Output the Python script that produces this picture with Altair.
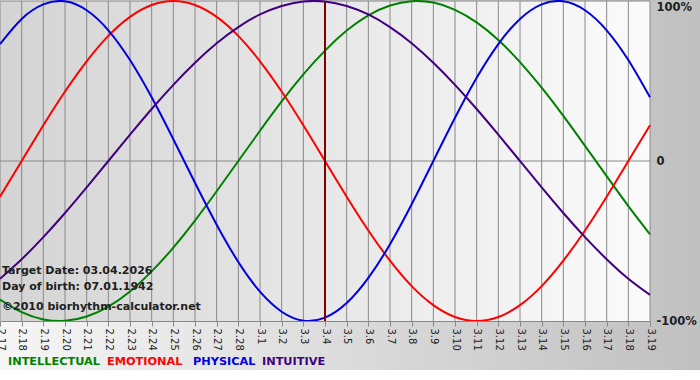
import altair as alt
import pandas as pd

# ---- data ----
dates = ["2.17", "2.18", "2.19", "2.20", "2.21", "2.22", "2.23", "2.24", "2.25", "2.26",
         "2.27", "2.28", "3.1", "3.2", "3.3", "3.4", "3.5", "3.6", "3.7", "3.8",
         "3.9", "3.10", "3.11", "3.12", "3.13", "3.14", "3.15", "3.16", "3.17", "3.18", "3.19"]

intellectual = [-0.866, -0.945, -0.990, -0.999, -0.972, -0.910, -0.815, -0.690, -0.541, -0.372,
                -0.189, 0.0, 0.189, 0.372, 0.541, 0.690, 0.815, 0.910, 0.972, 0.999,
                0.990, 0.945, 0.866, 0.756, 0.618, 0.458, 0.282, 0.095, -0.095, -0.282, -0.458]
emotional = [-0.223, 0.0, 0.223, 0.434, 0.623, 0.782, 0.901, 0.975, 1.0, 0.975,
             0.901, 0.782, 0.623, 0.434, 0.223, 0.0, -0.223, -0.434, -0.623, -0.782,
             -0.901, -0.975, -1.0, -0.975, -0.901, -0.782, -0.623, -0.434, -0.223, 0.0, 0.223]
physical = [0.731, 0.888, 0.979, 0.998, 0.942, 0.817, 0.631, 0.398, 0.136, -0.136,
            -0.398, -0.631, -0.817, -0.942, -0.998, -0.979, -0.888, -0.731, -0.520, -0.270,
            0.0, 0.270, 0.520, 0.731, 0.888, 0.979, 0.998, 0.942, 0.817, 0.631, 0.398]
intuitive = [-0.736, -0.614, -0.476, -0.325, -0.165, 0.0, 0.165, 0.325, 0.476, 0.614,
             0.736, 0.837, 0.916, 0.969, 0.997, 0.997, 0.969, 0.916, 0.837, 0.736,
             0.614, 0.476, 0.325, 0.165, 0.0, -0.165, -0.325, -0.476, -0.614, -0.736, -0.837]

series_names = ["INTELLECTUAL", "EMOTIONAL", "PHYSICAL", "INTUITIVE"]
series_colors = ["#008000", "#ff0000", "#0000e0", "#400080"]
target_date = ["3.4"]
y_grid_values = [1, 0]

info_lines = ["Target Date: 03.04.2026", "Day of birth: 07.01.1942", "\u00a92010 biorhythm-calculator.net"]

# ---- build table ----
rows = []
for name, vals in zip(series_names, [intellectual, emotional, physical, intuitive]):
    for d, v in zip(dates, vals):
        rows.append({"date": d, "value": v, "series": name})
df = pd.DataFrame(rows)
one = pd.DataFrame({"k": [0]})

W, H = 650, 320
FONT = "DejaVu Sans"
GRID = "#888888"

outer_bg = alt.Chart(one).mark_rect(
    fill=alt.Gradient(gradient="linear",
                      stops=[alt.GradientStop(color="#f6f6f6", offset=0),
                             alt.GradientStop(color="#c0c0c0", offset=1)],
                      x1=0, x2=1, y1=0, y2=0)
).encode(x=alt.value(0), x2=alt.value(700), y=alt.value(-1), y2=alt.value(369))

plot_bg = alt.Chart(one).mark_rect(
    fill=alt.Gradient(gradient="linear",
                      stops=[alt.GradientStop(color="#d4d4d4", offset=0),
                             alt.GradientStop(color="#fbfbfb", offset=1)],
                      x1=0, x2=1, y1=0, y2=0)
).encode(x=alt.value(0), x2=alt.value(W), y=alt.value(0), y2=alt.value(H))

xscale = alt.Scale(type="point", domain=dates, padding=0)
yscale = alt.Scale(domain=[-1, 1], nice=False, zero=False)

xenc = alt.X("date:O", sort=dates, scale=xscale,
             axis=alt.Axis(title=None, labelAngle=90, labelAlign="left", labelBaseline="middle",
                           labelFont=FONT, labelFontSize=10,
                           labelColor="#222222", tickSize=5, tickColor=GRID,
                           domainColor=GRID, grid=False, zindex=1,
                           labelOverlap=False, labelPadding=2))
yenc = alt.Y("value:Q", scale=yscale,
             axis=alt.Axis(title=None, orient="right", values=[-1, 0, 1],
                           labelExpr="datum.value == 1 ? '100%' : (datum.value == -1 ? '-100%' : '0')",
                           labelFont=FONT, labelFontSize=11.5, labelFontWeight="bold",
                           labelColor="#202020", ticks=False, domain=False, labelPadding=6,
                           labelBaseline={"condition": {"test": "datum.value == 1", "value": "top"},
                                          "value": "middle"},
                           grid=False, zindex=1))

vgrid = alt.Chart(pd.DataFrame({"date": dates})).mark_rule(color=GRID, strokeWidth=1).encode(
    x=alt.X("date:O", sort=dates, scale=xscale)
)
hgrid = alt.Chart(pd.DataFrame({"value": y_grid_values})).mark_rule(color=GRID, strokeWidth=1).encode(
    y=alt.Y("value:Q", scale=yscale)
)

lines = alt.Chart(df).mark_line(strokeWidth=2, interpolate="natural").encode(
    x=xenc, y=yenc,
    color=alt.Color("series:N", scale=alt.Scale(domain=series_names, range=series_colors), legend=None),
    detail="series:N",
)

rule = alt.Chart(pd.DataFrame({"date": target_date})).mark_rule(color="#800000", strokeWidth=2).encode(
    x=alt.X("date:O", sort=dates, scale=xscale)
)

texts = []
for txt, yy in zip(info_lines, [270, 286, 306]):
    texts.append(alt.Chart(one).mark_text(align="left", baseline="middle", font=FONT,
                                          fontWeight="bold", fontSize=11, color="#202020").encode(
        x=alt.value(2), y=alt.value(yy), text=alt.value(txt)))

legend_x = [8, 107, 193, 262]
for name, col, xx in zip(series_names, series_colors, legend_x):
    texts.append(alt.Chart(one).mark_text(align="left", baseline="middle", font=FONT,
                                          fontWeight="bold", fontSize=11.3, color=col).encode(
        x=alt.value(xx), y=alt.value(361), text=alt.value(name)))

chart = alt.layer(outer_bg, plot_bg, vgrid, hgrid, lines, rule, *texts).properties(
    width=W, height=H,
    autosize=alt.AutoSizeParams(type="none"),
    padding={"left": 0, "top": 1, "right": 50, "bottom": 59},
    background="white",
).configure_view(stroke=None)

chart.save("out.html", embed_options={"renderer": "svg", "actions": False})
